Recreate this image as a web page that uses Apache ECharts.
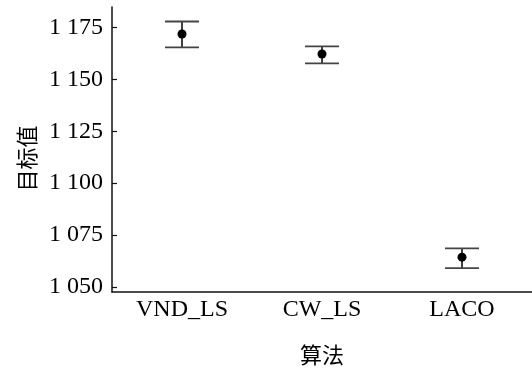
<!DOCTYPE html>
<html>
<head>
<meta charset="utf-8">
<script src="https://cdn.jsdelivr.net/npm/echarts@6/dist/echarts.min.js"></script>
<style>
  html, body { margin: 0; padding: 0; background: #fff; }
  #chart { width: 532px; height: 374px; }
</style>
</head>
<body>
<div id="chart"></div>
<script>
// Algorithms compared
const categories = ['VND_LS', 'CW_LS', 'LACO'];
// Mean objective value per algorithm
const means = [1172, 1162.3, 1064.3];
// Error bar ends
const upper = [1178, 1166, 1068.5];
const lower = [1165.5, 1157.8, 1059];
// Y-axis ticks
const yTicks = [1050, 1075, 1100, 1125, 1150, 1175];

const serif = '"Liberation Serif", "Times New Roman", serif';
const cjk = '"Noto Sans CJK SC", sans-serif';

function fmtThousands(v) {
  const s = String(Math.round(v));
  return s.replace(/\B(?=(\d{3})+(?!\d))/g, ' ');
}

const errData = categories.map((c, i) => [i, lower[i], upper[i]]);
const pointData = categories.map((c, i) => [i, means[i]]);

const chart = echarts.init(document.getElementById('chart'));
chart.setOption({
  animation: false,
  grid: { left: 112, right: -5, top: 7, bottom: 82, containLabel: false },
  xAxis: {
    type: 'category',
    data: categories,
    name: '算法',
    nameLocation: 'middle',
    nameGap: 52,
    nameTextStyle: { fontFamily: cjk, fontSize: 22, color: '#000' },
    axisLine: { lineStyle: { color: '#111', width: 1.5 } },
    axisTick: { alignWithLabel: true, inside: true, length: 6, lineStyle: { color: '#111', width: 1.2 } },
    axisLabel: { fontFamily: serif, fontSize: 24, color: '#000', margin: 6 },
    splitLine: { show: false }
  },
  yAxis: {
    type: 'value',
    min: 1047.5,
    max: 1185,
    name: '目标值',
    nameLocation: 'middle',
    nameGap: 74,
    nameRotate: 90,
    nameTextStyle: { fontFamily: cjk, fontSize: 22, color: '#000', padding: [0, 0, 0, -18] },
    axisLine: { show: true, lineStyle: { color: '#111', width: 1.5 } },
    axisTick: { show: true, inside: true, length: 5, customValues: yTicks, lineStyle: { color: '#111', width: 1.2 } },
    axisLabel: {
      fontFamily: serif, fontSize: 24, color: '#000', margin: 9,
      customValues: yTicks,
      formatter: fmtThousands
    },
    splitLine: { show: false }
  },
  series: [
    {
      type: 'custom',
      data: errData,
      renderItem: function (params, api) {
        const x = api.value(0);
        const lo = api.coord([x, api.value(1)]);
        const hi = api.coord([x, api.value(2)]);
        const half = 17;
        return {
          type: 'group',
          children: [
            { type: 'line', shape: { x1: lo[0], y1: lo[1], x2: hi[0], y2: hi[1] }, style: { stroke: '#000', lineWidth: 1.5 } },
            { type: 'line', shape: { x1: hi[0] - half, y1: hi[1], x2: hi[0] + half, y2: hi[1] }, style: { stroke: '#444', lineWidth: 1.8 } },
            { type: 'line', shape: { x1: lo[0] - half, y1: lo[1], x2: lo[0] + half, y2: lo[1] }, style: { stroke: '#444', lineWidth: 1.8 } }
          ]
        };
      },
      z: 2
    },
    {
      type: 'scatter',
      data: pointData,
      symbol: 'circle',
      symbolSize: 9,
      itemStyle: { color: '#000', opacity: 1 },
      z: 3
    }
  ]
});
</script>
</body>
</html>
